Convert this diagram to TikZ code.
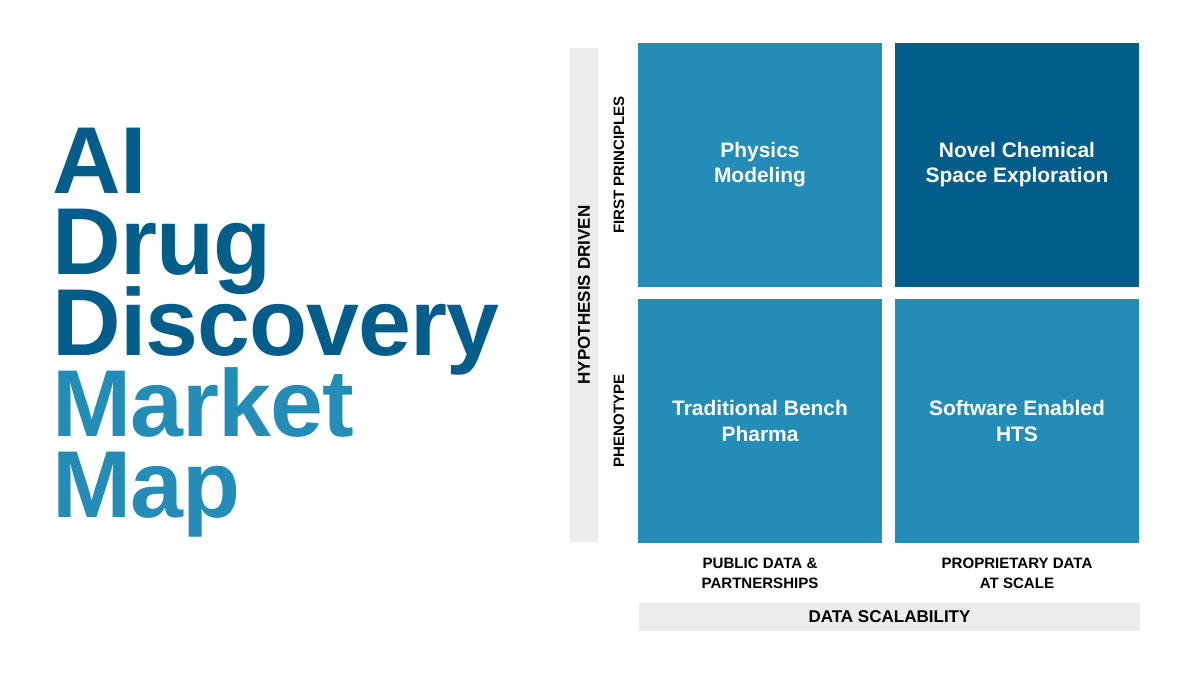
\documentclass[tikz,border=0pt]{standalone}
\usepackage{fontspec}
\setmainfont{Liberation Sans}
\newfontfamily\titlefont{Liberation Sans}[LetterSpace=-1]
\usepackage{xcolor}
\usetikzlibrary{positioning}
\definecolor{deepblue}{RGB}{3,93,138}
\definecolor{midblue}{RGB}{35,141,183}
\definecolor{barfill}{RGB}{236,236,236}
\newcommand\titlesize{\fontsize{67.6}{57.6}\selectfont\lineskiplimit=-100pt\lineskip=0pt\relax}

\begin{document}
\begin{tikzpicture}[x=0.025cm, y=-0.025cm,
  headline/.style={anchor=base west, inner sep=0pt, align=left, font=\titlefont\bfseries\titlesize},
  cell/.style={fill=midblue, minimum width=6.1cm, minimum height=6.1cm, inner sep=0pt, align=center, text=white, font=\bfseries\fontsize{14.9}{17.8}\selectfont},
  darkcell/.style={cell, fill=deepblue},
  axisbar/.style={fill=barfill, inner sep=0pt, minimum height=0.7cm, font=\bfseries\fontsize{12.1}{14}\selectfont},
  axislabel/.style={align=center, inner sep=0pt, font=\bfseries\fontsize{10.7}{14.2}\selectfont}
]
\useasboundingbox (0,0) rectangle (1200,675);

% title (base anchor sits on the last line)
\node[headline, text=deepblue] (title) at (52,517)
  {AI\\Drug\\Discovery\\\textcolor{midblue}{Market}\\\textcolor{midblue}{Map}};

% quadrants
\node[cell]     (phys)  at (760,165)  {Physics\\Modeling};
\node[darkcell] (novel) at (1017,165) {Novel Chemical\\Space Exploration};
\node[cell]     (bench) at (760,421)  {Traditional Bench\\Pharma};
\node[cell]     (hts)   at (1017,421) {Software Enabled\\HTS};

% axes
\node[axisbar, rotate=90, minimum width=12.35cm] (hyp) at (584,295) {HYPOTHESIS DRIVEN};
\node[axislabel, rotate=90] (firstp) at (619,165) {FIRST PRINCIPLES};
\node[axislabel, rotate=90] (pheno)  at (619,421) {PHENOTYPE};
\node[axislabel] (public) at (760,573)  {PUBLIC DATA \&\\PARTNERSHIPS};
\node[axislabel] (propr)  at (1017,573) {PROPRIETARY DATA\\AT SCALE};
\node[axisbar, minimum width=12.525cm] (scal) at (889.5,617) {DATA SCALABILITY};
\end{tikzpicture}
\end{document}
